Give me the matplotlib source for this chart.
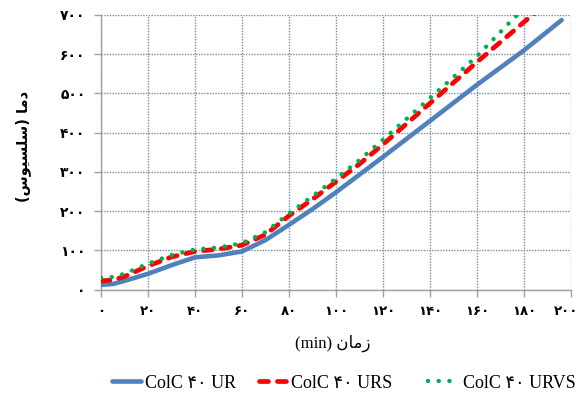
import matplotlib
matplotlib.use('Agg')
import matplotlib.pyplot as plt
import matplotlib.transforms as mtransforms
from matplotlib.lines import Line2D

# ---------------- data ----------------
time_ur = [0, 5, 10, 20, 30, 40, 50, 60, 70, 80, 90, 100, 110, 120, 140, 160, 180, 196]
temp_ur = [12, 14, 22, 40, 62, 82, 87, 97, 126, 165, 205, 248, 293, 338, 430, 522, 610, 687]

time_urs = [0, 5, 10, 20, 30, 40, 50, 60, 70, 80, 90, 100, 110, 120, 140, 160, 180, 186]
temp_urs = [22, 24, 33, 60, 83, 97, 103, 113, 140, 188, 230, 275, 320, 370, 475, 580, 682, 712]

time_urvs = [0, 5, 10, 20, 30, 40, 50, 60, 70, 80, 90, 100, 110, 120, 140, 160, 175, 180]
temp_urvs = [30, 32, 40, 66, 88, 102, 107, 118, 146, 194, 238, 283, 330, 382, 488, 595, 688, 716]

series_names = ['ColC ۴۰ UR', 'ColC ۴۰ URS', 'ColC ۴۰ URVS']
x_ticks = [0, 20, 40, 60, 80, 100, 120, 140, 160, 180, 200]
y_ticks = [0, 100, 200, 300, 400, 500, 600, 700]
x_title_word = 'زمان'
x_title_unit = '(min)'
y_title_words = ['دما', 'سلسیوس']

# ---------------- minimal Persian shaping (matplotlib has no bidi) ----------------
FORMS = {  # isolated, final, initial, medial
    'د': ('\uFEA9', '\uFEAA', None, None),
    'ا': ('\uFE8D', '\uFE8E', None, None),
    'و': ('\uFEED', '\uFEEE', None, None),
    'ز': ('\uFEAF', '\uFEB0', None, None),
    'م': ('\uFEE1', '\uFEE2', '\uFEE3', '\uFEE4'),
    'س': ('\uFEB1', '\uFEB2', '\uFEB3', '\uFEB4'),
    'ل': ('\uFEDD', '\uFEDE', '\uFEDF', '\uFEE0'),
    'ی': ('\uFBFC', '\uFBFD', '\uFEF3', '\uFEF4'),
    'ن': ('\uFEE5', '\uFEE6', '\uFEE7', '\uFEE8'),
}


def shape_word(w):
    out = []
    for i, c in enumerate(w):
        f = FORMS[c]
        prev_j = i > 0 and FORMS[w[i - 1]][2] is not None
        next_j = i < len(w) - 1 and f[2] is not None
        if prev_j and next_j:
            g = f[3]
        elif prev_j:
            g = f[1]
        elif next_j:
            g = f[2]
        else:
            g = f[0]
        out.append(g)
    return ''.join(reversed(out))


PERSIAN_DIGITS = str.maketrans('0123456789', '۰۱۲۳۴۵۶۷۸۹')


def fa(n):
    return str(n).translate(PERSIAN_DIGITS)


# ---------------- figure ----------------
W, H = 579, 396
fig = plt.figure(figsize=(W / 100, H / 100), dpi=100)
ax = fig.add_axes([101 / W, 1 - 289.5 / H, 470 / W, 274.5 / H])

blue = '#4F81BD'
red = '#FF0000'
green = '#00B050'

styles = [
    dict(color=blue, lw=3.3, solid_capstyle='round'),
    dict(color=red, lw=3.4, linestyle=(0, (1.9, 1.9)), dash_capstyle='round'),
    dict(color=green, lw=3.2, linestyle=(0, (0.01, 2.4)), dash_capstyle='round'),
]

ax.plot(time_ur, temp_ur, zorder=3, **styles[0])
ax.plot(time_urs, temp_urs, zorder=4, **styles[1])
ax.plot(time_urvs, temp_urvs, zorder=5, **styles[2])

ax.set_xlim(0, 200)
ax.set_ylim(0, 700)
ax.set_xticks(x_ticks)
ax.set_yticks(y_ticks)
ax.set_xticklabels([fa(v) for v in x_ticks], fontsize=9.5, fontweight='bold',
                   family=['DejaVu Sans'])
ax.set_yticklabels([fa(v) for v in y_ticks], fontsize=10, fontweight='bold',
                   family=['DejaVu Sans'])

ax.grid(True, color='#7A8AA3', linestyle=(0, (1, 1)), lw=1.0)
ax.set_axisbelow(True)
for s in ['top', 'right']:
    ax.spines[s].set_visible(False)
for s in ['left', 'bottom']:
    ax.spines[s].set_color('#A0A0A0')
    ax.spines[s].set_linewidth(1.0)
ax.tick_params(axis='both', direction='out', length=5, color='#A0A0A0', width=1)
ax.tick_params(axis='x', pad=6)
ax.tick_params(axis='y', pad=6)

# nudge the last x label so it stays inside the canvas (after tick_params)
last = ax.get_xticklabels()[-1]
last.set_horizontalalignment('right')
last.set_transform(last.get_transform() +
                   mtransforms.ScaledTranslation(7 / 100, 0, fig.dpi_scale_trans))

xlabel = x_title_unit + ' ' + shape_word(x_title_word)
ylabel = '(' + shape_word(y_title_words[1]) + ') ' + shape_word(y_title_words[0])
fig.text(333 / W, 1 - 343 / H, xlabel, ha='center', va='center',
         fontsize=12, family=['Liberation Serif', 'DejaVu Sans'])
fig.text(23 / W, 1 - 146 / H, ylabel, ha='center', va='center', rotation=90,
         fontsize=10.5, fontweight='bold', family=['DejaVu Sans'])

# legend: three entries placed like the reference
legend_x = [112, 259, 428]
legend_hl = [1.6, 1.5, 1.7]
for i in range(3):
    h = Line2D([], [], **styles[i])
    fig.legend([h], [series_names[i]], loc='center left',
               bbox_to_anchor=(legend_x[i] / W, 1 - 383 / H),
               frameon=False, handlelength=legend_hl[i], handletextpad=0.25,
               borderpad=0, borderaxespad=0,
               prop={'family': ['Liberation Serif', 'DejaVu Sans'], 'size': 13})

fig.savefig('out.png', dpi=100)
